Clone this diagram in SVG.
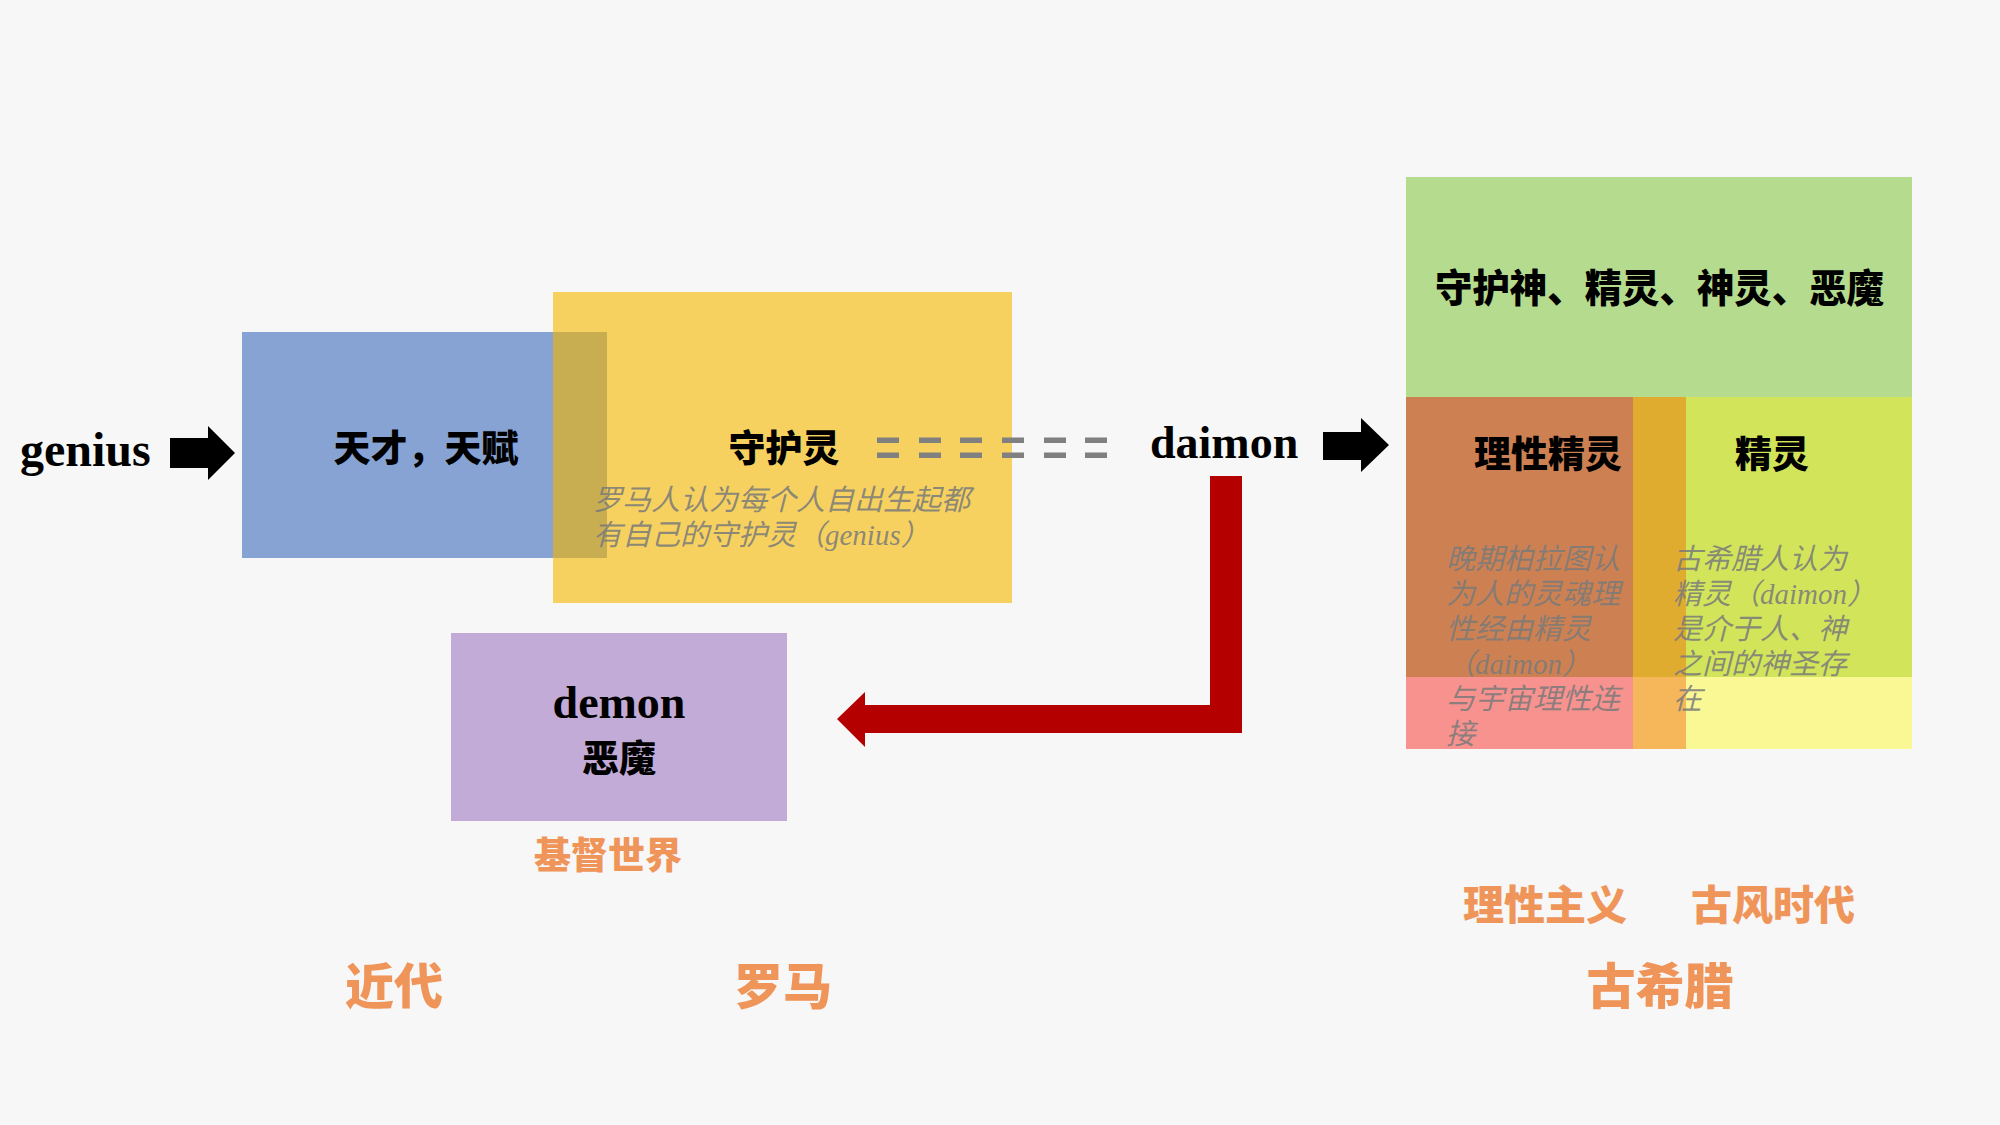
<svg xmlns="http://www.w3.org/2000/svg" width="2000" height="1125" viewBox="0 0 2000 1125">
<style>
.lat{font-family:"Liberation Serif","Times New Roman",serif;font-weight:bold;fill:#000}
.cjk{font-family:"Noto Sans CJK SC","Noto Sans CJK TC",sans-serif;font-weight:900;fill:#000}
.era{font-family:"Noto Sans CJK SC","Noto Sans CJK TC",sans-serif;font-weight:900;fill:#f0955a}
.note{font-family:"Liberation Serif","Noto Sans CJK SC",serif;font-style:italic;font-size:29px;fill:#7a7a7a;fill-opacity:0.85}
.dash{fill:#808080}
</style>
<rect x="0" y="0" width="2000" height="1125" fill="#f7f7f7"/>

<g id="node-genius">
<text class="lat" x="20" y="466" font-size="48">genius</text>
</g>

<g id="node-yellow">
<rect x="553" y="292" width="459" height="311" fill="#f6d160"/>
</g>

<g id="node-blue">
<rect x="242" y="332" width="311" height="226" fill="#86a3d4"/>
<rect x="553" y="332" width="54" height="226" fill="#c8ae50"/>
<text class="cjk" x="426" y="462" font-size="37" text-anchor="middle">天才，天赋</text>
</g>

<g id="node-shouhuling">
<text class="cjk" x="784" y="462" font-size="37" text-anchor="middle">守护灵</text>
<text class="note"><tspan x="593" y="510">罗马人认为每个人自出生起都</tspan><tspan x="593" y="545">有自己的守护灵（genius）</tspan></text>
</g>

<g id="node-daimon">
<text class="lat" x="1150" y="458" font-size="46">daimon</text>
</g>

<g id="node-demon">
<rect x="451" y="633" width="336" height="188" fill="#c2abd6"/>
<text class="lat" x="619" y="718" font-size="46" text-anchor="middle">demon</text>
<text class="cjk" x="619" y="772" font-size="37" text-anchor="middle">恶魔</text>
</g>

<g id="node-greek">
<rect x="1406" y="177" width="506" height="220" fill="#b5db8f"/>
<rect x="1406" y="397" width="227" height="280" fill="#cd8153"/>
<rect x="1633" y="397" width="53" height="280" fill="#e0ac30"/>
<rect x="1686" y="397" width="226" height="280" fill="#d2e55a"/>
<rect x="1406" y="677" width="227" height="72" fill="#f7928f"/>
<rect x="1633" y="677" width="53" height="72" fill="#f5b75a"/>
<rect x="1686" y="677" width="226" height="72" fill="#faf795"/>
<text class="cjk" x="1435" y="302" font-size="39" textLength="449" lengthAdjust="spacingAndGlyphs">守护神、精灵、神灵、恶魔</text>
<text class="cjk" x="1548" y="468" font-size="37" text-anchor="middle">理性精灵</text>
<text class="cjk" x="1772" y="468" font-size="37" text-anchor="middle">精灵</text>
<text class="note"><tspan x="1446" y="569">晚期柏拉图认</tspan><tspan x="1446" y="604">为人的灵魂理</tspan><tspan x="1446" y="639">性经由精灵</tspan><tspan x="1446" y="674">（daimon）</tspan><tspan x="1446" y="709">与宇宙理性连</tspan><tspan x="1446" y="744">接</tspan></text>
<text class="note"><tspan x="1673" y="569">古希腊人认为</tspan><tspan x="1673" y="604">精灵（daimon）</tspan><tspan x="1673" y="639">是介于人、神</tspan><tspan x="1673" y="674">之间的神圣存</tspan><tspan x="1673" y="709">在</tspan></text>
</g>

<g id="labels">
<text class="era" x="608" y="869" font-size="37" text-anchor="middle">基督世界</text>
<text class="era" x="1545" y="920" font-size="41" text-anchor="middle">理性主义</text>
<text class="era" x="1773" y="920" font-size="41" text-anchor="middle">古风时代</text>
<text class="era" x="394" y="1004" font-size="49" text-anchor="middle">近代</text>
<text class="era" x="783" y="1004" font-size="49" text-anchor="middle">罗马</text>
<text class="era" x="1660" y="1004" font-size="49" text-anchor="middle">古希腊</text>
</g>

<g id="connectors">
<polygon points="170,438 208,438 208,426 235,453 208,480 208,468 170,468" fill="#000"/>
<polygon points="1323,432 1361,432 1361,418 1389,445 1361,472 1361,460 1323,460" fill="#000"/>
<polygon points="1210,476 1242,476 1242,733 865,733 865,747 837,719 865,692 865,705 1210,705" fill="#b50000"/>
<g class="dash">
<rect x="877" y="437.5" width="22" height="5.5"/><rect x="877" y="452.5" width="22" height="5.5"/>
<rect x="919" y="437.5" width="22" height="5.5"/><rect x="919" y="452.5" width="22" height="5.5"/>
<rect x="960" y="437.5" width="22" height="5.5"/><rect x="960" y="452.5" width="22" height="5.5"/>
<rect x="1002" y="437.5" width="22" height="5.5"/><rect x="1002" y="452.5" width="22" height="5.5"/>
<rect x="1044" y="437.5" width="22" height="5.5"/><rect x="1044" y="452.5" width="22" height="5.5"/>
<rect x="1085" y="437.5" width="22" height="5.5"/><rect x="1085" y="452.5" width="22" height="5.5"/>
</g>
</g>
</svg>
